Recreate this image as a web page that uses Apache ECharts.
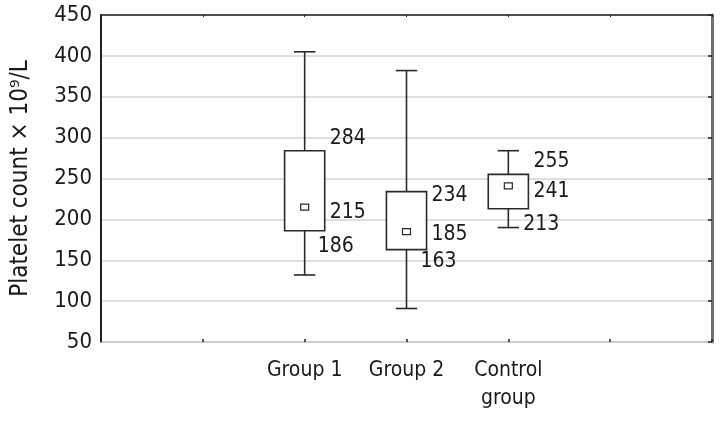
<!DOCTYPE html>
<html><head><meta charset="utf-8">
<script src="https://cdn.jsdelivr.net/npm/echarts@6/dist/echarts.min.js"></script>
<style>html,body{margin:0;padding:0;background:#fff}#c{width:724px;height:423px}</style>
</head><body><div id="c"></div>
<script>
const categories = ['', ' ', 'Group 1', 'Group 2', 'Control\ngroup', '  ', '   '];
const groupIndex = [2, 3, 4];
const whiskerLow = [132, 91, 190];
const q1 = [186, 163, 213];
const centerVal = [215, 185, 241];
const q3 = [284, 234, 255];
const whiskerHigh = [405, 382, 284];
const yTicks = [50, 450, 50]; // min, max, interval

// label placement (layout only): [topDy, midDy, bottomDx, bottomDy]
const labelLayout = [[-12, 5, 13, 16], [4, 3, 14, 12], [-13, 6, 15, 16]];

const FONT = '"Liberation Sans Narrow","DejaVu Sans Condensed",sans-serif';
const data = groupIndex.map((g, i) => [g, whiskerLow[i], q1[i], centerVal[i], q3[i], whiskerHigh[i], i]);

function renderItem(params, api) {
  const x = api.value(0);
  const gi = api.value(6);
  const pLow = api.coord([x, api.value(1)]);
  const pQ1 = api.coord([x, api.value(2)]);
  const pC = api.coord([x, api.value(3)]);
  const pQ3 = api.coord([x, api.value(4)]);
  const pHigh = api.coord([x, api.value(5)]);
  const step = api.size([1, 0])[0];
  const bw = step * 0.197, cap = step * 0.105;
  const cx = pC[0];
  const ls = {stroke: '#2a2a2a', lineWidth: 1.6, fill: null};
  const lay = labelLayout[gi];
  const ts = (text, tx, ty) => ({type: 'text', style: {text: String(text), x: tx, y: ty, fill: '#1a1a1a', font: '21px ' + FONT, align: 'left', verticalAlign: 'middle'}});
  return {type: 'group', children: [
    {type: 'line', shape: {x1: cx, y1: pHigh[1], x2: cx, y2: pQ3[1]}, style: ls},
    {type: 'line', shape: {x1: cx, y1: pQ1[1], x2: cx, y2: pLow[1]}, style: ls},
    {type: 'line', shape: {x1: cx - cap, y1: pHigh[1], x2: cx + cap, y2: pHigh[1]}, style: ls},
    {type: 'line', shape: {x1: cx - cap, y1: pLow[1], x2: cx + cap, y2: pLow[1]}, style: ls},
    {type: 'rect', shape: {x: cx - bw, y: pQ3[1], width: 2 * bw, height: pQ1[1] - pQ3[1]}, style: {stroke: '#2a2a2a', lineWidth: 1.6, fill: '#fff'}},
    {type: 'rect', shape: {x: cx - 4, y: pC[1] - 3, width: 8, height: 6}, style: {stroke: '#2a2a2a', lineWidth: 1.2, fill: '#fff'}},
    ts(api.value(4), cx + bw + 5, pQ3[1] + lay[0]),
    ts(api.value(3), cx + bw + 5, pC[1] + lay[1]),
    ts(api.value(2), cx + lay[2], pQ1[1] + lay[3])
  ]};
}

const chart = echarts.init(document.getElementById('c'), null, {renderer: 'canvas'});
chart.setOption({
  animation: false,
  grid: {left: 101, right: 12, top: 15, bottom: 81},
  xAxis: [{
    type: 'category', data: categories, boundaryGap: false, position: 'bottom',
    axisLine: {lineStyle: {color: '#c8c8c8', width: 1.5}},
    axisTick: {inside: true, length: 3, lineStyle: {color: '#222', width: 1.5}},
    axisLabel: {color: '#1a1a1a', fontSize: 21, fontFamily: FONT, margin: 15, lineHeight: 28, interval: 0},
    splitLine: {show: false}
  }, {
    type: 'category', data: categories, boundaryGap: false, position: 'top',
    axisLine: {lineStyle: {color: '#222', width: 1.5}},
    axisTick: {inside: true, length: 2, lineStyle: {color: '#222', width: 1}},
    axisLabel: {show: false}, splitLine: {show: false}
  }],
  yAxis: [{
    type: 'value', min: yTicks[0], max: yTicks[1], interval: yTicks[2],
    name: 'Platelet count × 10⁹/L', nameLocation: 'middle', nameGap: 68,
    nameTextStyle: {color: '#1a1a1a', fontSize: 24, fontFamily: FONT},
    axisLine: {show: true, lineStyle: {color: '#222', width: 2}},
    axisTick: {show: false},
    axisLabel: {color: '#1a1a1a', fontSize: 22, fontFamily: FONT, margin: 9},
    splitLine: {lineStyle: {color: '#d4d4d4', width: 1.5}}
  }, {
    type: 'value', min: yTicks[0], max: yTicks[1], interval: yTicks[2], position: 'right',
    axisLine: {show: true, lineStyle: {color: '#707070', width: 3}},
    axisTick: {show: true, inside: true, length: 4, lineStyle: {color: '#222', width: 1.5}},
    axisLabel: {show: false}, splitLine: {show: false}
  }],
  series: [{
    type: 'custom', renderItem: renderItem, data: data,
    encode: {x: 0, y: [1, 2, 3, 4, 5]}, z: 10, clip: false
  }]
});
</script></body></html>
